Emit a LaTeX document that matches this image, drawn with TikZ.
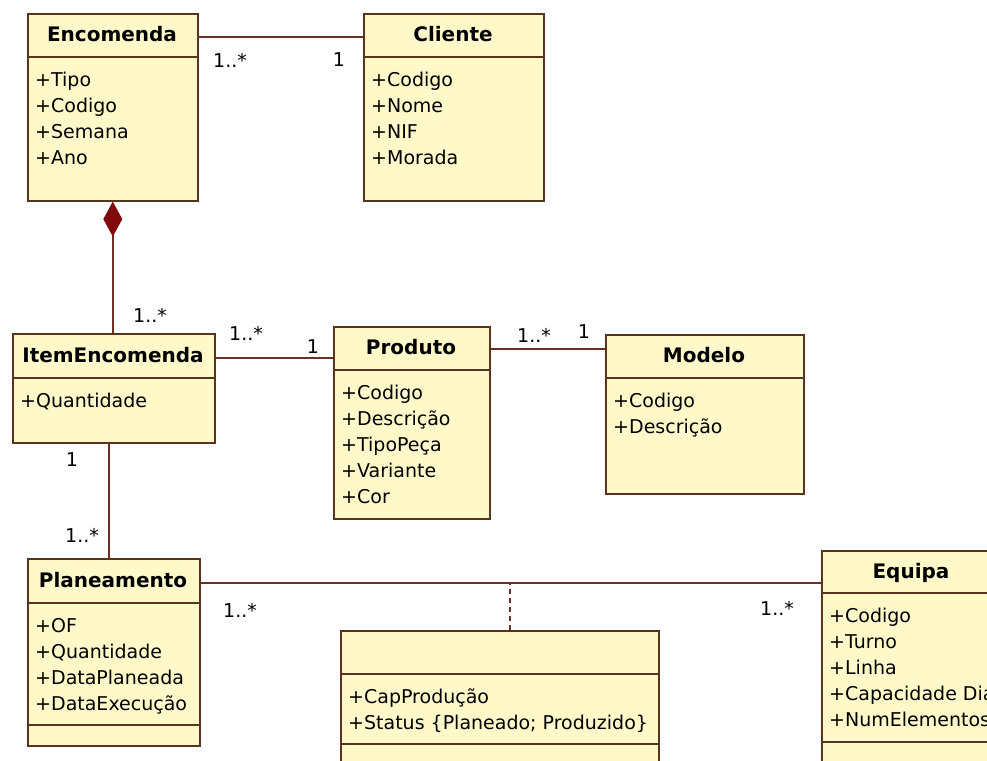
\documentclass[tikz,border=0pt]{standalone}
\usepackage{fontspec}
\setmainfont{DejaVu Sans}
\usetikzlibrary{calc,arrows.meta}

\definecolor{classfill}{RGB}{255,249,202}
\definecolor{classedge}{RGB}{88,52,30}
\definecolor{assocline}{RGB}{105,48,36}
\definecolor{compred}{RGB}{128,10,10}

\tikzset{
  classbox/.style={draw=classedge, fill=classfill, line width=1.6pt, inner sep=0pt, anchor=north west},
  compline/.style={draw=classedge, line width=1.6pt},
  classtitle/.style={font=\fontsize{20}{24}\selectfont\bfseries, anchor=base, inner sep=0pt},
  attr/.style={font=\fontsize{19}{26}\selectfont, anchor=base west, inner sep=0pt},
  mult/.style={font=\fontsize{19}{22}\selectfont, inner sep=0pt},
  assoc/.style={draw=assocline, line width=1.6pt},
  assocdash/.style={draw=assocline, line width=1.6pt, dash pattern=on 5pt off 4pt},
}

% #1 name, #2 left, #3 top, #4 right, #5 bottom, #6 header bottom, #7 title, #8 attributes
\newcommand\umlclass[8]{%
  \node[classbox, minimum width={#4-#2}, minimum height={#5-#3}] (#1) at (#2,#3) {};
  \draw[compline] (#2,#6) -- (#4,#6);
  \node[classtitle] (#1-title) at ({(#2+#4)/2},{(#3+#6)/2+6.5}) {#7};
  \foreach \t [count=\i] in {#8}
    \node[attr] (#1-a\i) at ({#2+8},{#6+29+(\i-1)*26}) {\t};
}

\begin{document}
\begin{tikzpicture}[x=1pt,y=-1pt]
\useasboundingbox (0,0) rectangle (987,760);
\clip (0,0) rectangle (987,760);

% classes
\umlclass{Encomenda}{27}{13}{197}{200}{57}{Encomenda}{+Tipo,+Codigo,+Semana,+Ano}
\umlclass{Cliente}{363}{13}{543}{200}{57}{Cliente}{+Codigo,+Nome,+NIF,+Morada}
\umlclass{ItemEncomenda}{12}{333}{214}{442}{378}{ItemEncomenda}{+Quantidade}
\umlclass{Produto}{333}{326}{489}{518}{370}{Produto}{+Codigo,+Descrição,+TipoPeça,+Variante,+Cor}
\umlclass{Modelo}{605}{334}{803}{493}{378}{Modelo}{+Codigo,+Descrição}
\umlclass{Planeamento}{27}{558}{199}{745}{603}{Planeamento}{+OF,+Quantidade,+DataPlaneada,+DataExecução}
\draw[compline] (27,725) -- (199,725);
\umlclass{AssocClass}{340}{630}{658}{800}{674}{}{+CapProdução,+Status \{Planeado; Produzido\}}
\draw[compline] (340,744) -- (658,744);
\umlclass{Equipa}{821}{550}{1001}{800}{593}{Equipa}{+Codigo,+Turno,+Linha,+Capacidade Dia,+NumElementos}
\draw[compline] (821,742) -- (1001,742);

% Encomenda -- Cliente
\draw[assoc] ($(Encomenda.north east)+(0,24)$) -- ($(Cliente.north west)+(0,24)$);
\node[mult] (m1) at (230,60) {1..*};
\node[mult] (m2) at (339,60) {1};

% composition Encomenda <>-- ItemEncomenda
\draw[assoc, {Diamond[length=35pt,width=19pt,color=compred,fill=compred]}-]
  (Encomenda.south) -- (Encomenda.south |- ItemEncomenda.north);
\node[mult] (m3) at (150,315) {1..*};

% ItemEncomenda -- Produto
\coordinate (ip) at ($(ItemEncomenda.north east)+(0,25)$);
\draw[assoc] (ip) -- (ip -| Produto.west);
\node[mult] (m4) at (246,333) {1..*};
\node[mult] (m5) at (313,347) {1};

% Produto -- Modelo
\coordinate (pm) at ($(Produto.north east)+(0,23)$);
\draw[assoc] (pm) -- (pm -| Modelo.west);
\node[mult] (m6) at (534,335) {1..*};
\node[mult] (m7) at (584,332) {1};

% ItemEncomenda -- Planeamento
\coordinate (ipl) at ($(ItemEncomenda.south)+(-5,0)$);
\draw[assoc] (ipl) -- (ipl |- Planeamento.north);
\node[mult] (m8) at (72,460) {1};
\node[mult] (m9) at (82,535) {1..*};

% Planeamento -- Equipa with association class
\coordinate (pe) at ($(Planeamento.north east)+(0,25)$);
\draw[assoc] (pe) -- (pe -| Equipa.west);
\node[mult] (m10) at (240,610) {1..*};
\node[mult] (m11) at (777,608) {1..*};
\coordinate (ac) at ($(AssocClass.north)+(10,0)$);
\draw[assocdash] (ac) -- (ac |- pe);
\end{tikzpicture}
\end{document}
